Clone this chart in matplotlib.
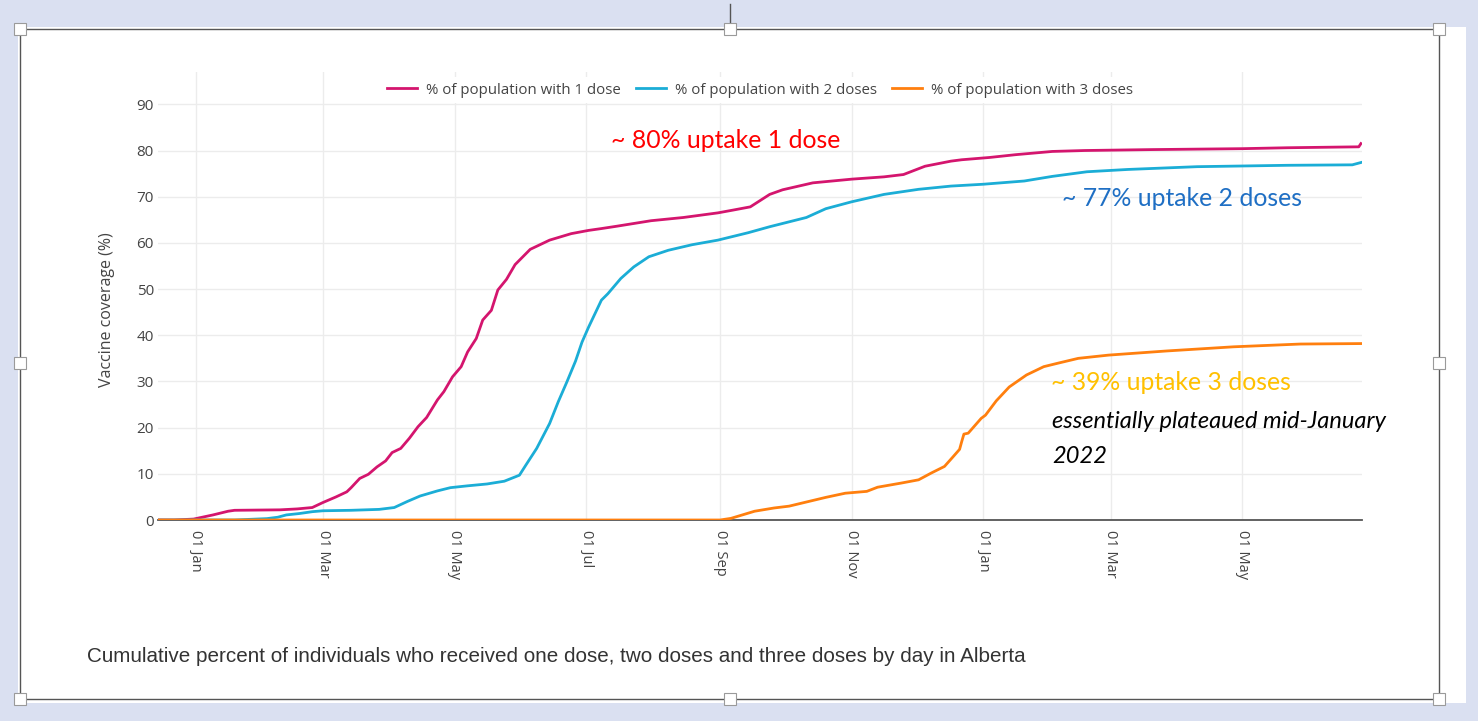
import matplotlib
matplotlib.use("Agg")
import matplotlib.pyplot as plt
from matplotlib.patches import Rectangle
from matplotlib.lines import Line2D
import pandas as pd

# data
dose1_dates = ["2020-12-14", "2020-12-22", "2020-12-31", "2021-01-09", "2021-01-16", "2021-01-19",
               "2021-02-09", "2021-02-17", "2021-02-24", "2021-03-01", "2021-03-07", "2021-03-12",
               "2021-03-14", "2021-03-18", "2021-03-22", "2021-03-26", "2021-03-30", "2021-04-02",
               "2021-04-06", "2021-04-10", "2021-04-14", "2021-04-18", "2021-04-23", "2021-04-26",
               "2021-04-30", "2021-05-04", "2021-05-07", "2021-05-11", "2021-05-14", "2021-05-18",
               "2021-05-21", "2021-05-25", "2021-05-29", "2021-06-05", "2021-06-14", "2021-06-24",
               "2021-07-02", "2021-07-08", "2021-07-15", "2021-07-31", "2021-08-15", "2021-08-31",
               "2021-09-07", "2021-09-15", "2021-09-24", "2021-09-30", "2021-10-14", "2021-11-01",
               "2021-11-16", "2021-11-25", "2021-12-05", "2021-12-17", "2021-12-22", "2022-01-04",
               "2022-01-16", "2022-02-02", "2022-02-17", "2022-03-20", "2022-05-01", "2022-05-22",
               "2022-06-24", "2022-06-25"]
dose1_vals = [0.0, 0.0, 0.2, 1.1, 1.9, 2.1,
              2.2, 2.4, 2.7, 3.8, 5.0, 6.1,
              7.0, 9.0, 9.9, 11.5, 12.8, 14.6,
              15.5, 17.7, 20.2, 22.2, 26.0, 27.8,
              31.0, 33.2, 36.4, 39.3, 43.3, 45.4,
              49.8, 52.1, 55.3, 58.6, 60.6, 62.0,
              62.7, 63.1, 63.6, 64.8, 65.5, 66.5,
              67.1, 67.8, 70.5, 71.5, 73.0, 73.8,
              74.3, 74.8, 76.6, 77.7, 78.0, 78.5,
              79.1, 79.8, 80.0, 80.2, 80.4, 80.6,
              80.8, 81.5]

dose2_dates = ["2020-12-14", "2021-01-19", "2021-02-03", "2021-02-08", "2021-02-12", "2021-02-18",
               "2021-02-24", "2021-03-01", "2021-03-14", "2021-03-27", "2021-04-03", "2021-04-09",
               "2021-04-15", "2021-04-23", "2021-04-29", "2021-05-07", "2021-05-16", "2021-05-24",
               "2021-05-31", "2021-06-03", "2021-06-08", "2021-06-14", "2021-06-18", "2021-06-22",
               "2021-06-26", "2021-06-29", "2021-07-02", "2021-07-08", "2021-07-11", "2021-07-17",
               "2021-07-23", "2021-07-30", "2021-08-08", "2021-08-19", "2021-08-31", "2021-09-14",
               "2021-09-24", "2021-10-11", "2021-10-20", "2021-11-01", "2021-11-16", "2021-12-02",
               "2021-12-17", "2022-01-01", "2022-01-20", "2022-02-02", "2022-02-18", "2022-03-09",
               "2022-04-10", "2022-05-22", "2022-06-21", "2022-06-25"]
dose2_vals = [0.0, 0.0, 0.3, 0.6, 1.1, 1.4,
              1.8, 2.0, 2.1, 2.3, 2.7, 4.0,
              5.2, 6.3, 7.0, 7.4, 7.8, 8.4,
              9.7, 11.9, 15.5, 20.9, 25.6, 29.9,
              34.4, 38.5, 41.7, 47.6, 49.0, 52.3,
              54.8, 57.0, 58.4, 59.6, 60.6, 62.2,
              63.5, 65.5, 67.4, 68.9, 70.5, 71.6,
              72.3, 72.7, 73.4, 74.4, 75.4, 75.9,
              76.5, 76.8, 76.9, 77.4]

dose3_dates = ["2020-12-14", "2021-09-01", "2021-09-06", "2021-09-17", "2021-09-26", "2021-10-03",
               "2021-10-20", "2021-10-29", "2021-11-08", "2021-11-13", "2021-11-24", "2021-12-02",
               "2021-12-08", "2021-12-14", "2021-12-18", "2021-12-21", "2021-12-22", "2021-12-23",
               "2021-12-25", "2021-12-31", "2022-01-02", "2022-01-07", "2022-01-13", "2022-01-21",
               "2022-01-29", "2022-02-05", "2022-02-14", "2022-02-28", "2022-03-27", "2022-04-27",
               "2022-05-28", "2022-06-25"]
dose3_vals = [0.0, 0.0, 0.35, 1.9, 2.6, 3.0,
              4.9, 5.8, 6.2, 7.1, 8.0, 8.7,
              10.2, 11.6, 13.7, 15.3, 17.0, 18.6,
              18.8, 22.0, 22.7, 25.8, 28.8, 31.4,
              33.2, 34.0, 35.0, 35.7, 36.6, 37.5,
              38.1, 38.2]

series_names = ["% of population with 1 dose", "% of population with 2 doses",
                "% of population with 3 doses"]
tick_dates = ["2021-01-01", "2021-03-01", "2021-05-01", "2021-07-01", "2021-09-01",
              "2021-11-01", "2022-01-01", "2022-03-01", "2022-05-01"]
tick_labels = ["01 Jan", "01 Mar", "01 May", "01 Jul", "01 Sep", "01 Nov", "01 Jan", "01 Mar", "01 May"]
y_ticks = [0, 10, 20, 30, 40, 50, 60, 70, 80, 90]

W, H = 1478, 721


def fx(px):
    return px / W


def fy(py):
    return 1 - py / H


fig = plt.figure(figsize=(W / 100, H / 100), dpi=100, facecolor="#dae0f1")

# slide-ish surroundings: white box, selection frame and handles
fig.add_artist(Rectangle((fx(18), fy(703)), fx(1466) - fx(18), fy(27) - fy(703),
                         transform=fig.transFigure, facecolor="white", edgecolor="none", zorder=0))
fig.add_artist(Rectangle((fx(20), fy(699)), fx(1439) - fx(20), fy(29) - fy(699),
                         transform=fig.transFigure, facecolor="none", edgecolor="#555555", lw=1.0, zorder=1))
fig.add_artist(Line2D([fx(730), fx(730)], [fy(4), fy(22)], transform=fig.transFigure,
                      color="#555555", lw=1.0))
for hx, hy in [(20, 29), (730, 29), (1439, 29), (20, 363), (1439, 363),
               (20, 699), (730, 699), (1439, 699)]:
    fig.add_artist(Rectangle((fx(hx - 6), fy(hy + 6)), 12 / W, 12 / H, transform=fig.transFigure,
                             facecolor="white", edgecolor="#9a9a9a", lw=0.8, zorder=5))

ax = fig.add_axes([fx(158), fy(520), fx(1362) - fx(158), fy(72) - fy(520)])
ax.set_facecolor("none")

colors = ["#d4156e", "#1badd6", "#ff7f0e"]
ax.plot(pd.to_datetime(dose1_dates), dose1_vals, color=colors[0], lw=2.0, label=series_names[0], zorder=3)
ax.plot(pd.to_datetime(dose2_dates), dose2_vals, color=colors[1], lw=2.0, label=series_names[1], zorder=3)
ax.plot(pd.to_datetime(dose3_dates), dose3_vals, color=colors[2], lw=2.0, label=series_names[2], zorder=4)

ax.set_xlim(pd.Timestamp("2020-12-14 12:00"), pd.Timestamp("2022-06-25 12:00"))
ax.set_ylim(0, 97)

ax.set_xticks(pd.to_datetime(tick_dates))
ax.set_xticklabels(tick_labels, rotation=-90, ha="center", va="top",
                   fontsize=10.5, color="#444444", family="Open Sans")
ax.set_yticks(y_ticks)
ax.set_yticklabels([str(v) for v in y_ticks], fontsize=11, color="#444444", family="Open Sans")
ax.tick_params(axis="both", length=0)
ax.tick_params(axis="x", pad=7)
ax.tick_params(axis="y", pad=3)
ax.grid(True, color="#ececec", lw=1.0, zorder=0)
ax.set_axisbelow(True)
for s in ["top", "right", "left"]:
    ax.spines[s].set_visible(False)
ax.spines["bottom"].set_color("#555555")
ax.spines["bottom"].set_linewidth(1.3)

fig.text(fx(107), fy(310), "Vaccine coverage (%)", fontsize=11.5, color="#444444", family="Open Sans",
         rotation=90, ha="center", va="center")

leg = ax.legend(loc="center", bbox_to_anchor=(fx(760), fy(90)), bbox_transform=fig.transFigure,
                ncol=3, frameon=True, fancybox=False, framealpha=1.0, handlelength=2.0,
                columnspacing=1.0, handletextpad=0.6, borderpad=0.35,
                prop={"family": "Open Sans", "size": 10.8})
leg.get_frame().set_edgecolor("none")
leg.get_frame().set_facecolor("white")
for t in leg.get_texts():
    t.set_color("#444444")

# annotations pasted on the slide
fig.text(fx(611), fy(140), "~ 80% uptake 1 dose", color="#ff0000", fontsize=17.8, family="Lato", va="center")
fig.text(fx(1062), fy(198), "~ 77% uptake 2 doses", color="#1f6fc4", fontsize=17.8, family="Lato", va="center")
fig.text(fx(1051), fy(383), "~ 39% uptake 3 doses", color="#ffc000", fontsize=17.8, family="Lato", va="center")
fig.text(fx(1052), fy(421), "essentially plateaued mid-January", color="black", fontsize=17,
         family="Lato", style="italic", va="center")
fig.text(fx(1052), fy(456), "2022", color="black", fontsize=17, family="Lato", style="italic", va="center")

fig.text(fx(87), fy(656), "Cumulative percent of individuals who received one dose, two doses and three doses by day in Alberta",
         fontsize=14.9, color="#333333", family="Liberation Sans", va="center")

fig.savefig("out.png", dpi=100, facecolor=fig.get_facecolor())
